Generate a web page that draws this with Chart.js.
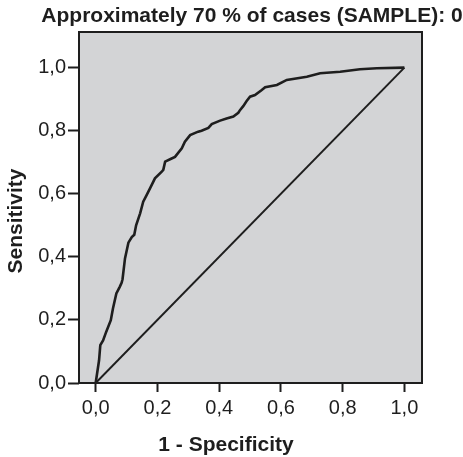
<!DOCTYPE html>
<html>
<head>
<meta charset="utf-8">
<script src="https://cdn.jsdelivr.net/npm/chart.js@4"></script>
<style>
  html, body { margin: 0; padding: 0; background: #fff; }
  #wrap { width: 463px; height: 457px; }
</style>
</head>
<body>
<div id="wrap"><canvas id="roc"></canvas></div>
<script>
const TITLE = "Approximately 70 % of cases (SAMPLE): 0";
const X_TITLE = "1 - Specificity";
const Y_TITLE = "Sensitivity";

// ROC curve
const fpr = [0, 0.011, 0.015, 0.024, 0.034, 0.049, 0.056, 0.067, 0.078, 0.084,
  0.087, 0.095, 0.106, 0.117, 0.125, 0.131, 0.144, 0.154, 0.165, 0.176,
  0.192, 0.214, 0.219, 0.225, 0.246, 0.257, 0.279, 0.289, 0.306, 0.332,
  0.343, 0.365, 0.376, 0.403, 0.424, 0.446, 0.462, 0.468, 0.478, 0.489,
  0.5, 0.516, 0.538, 0.549, 0.587, 0.619, 0.684, 0.727, 0.792, 0.856,
  0.911, 1];
const tpr = [0, 0.072, 0.12, 0.135, 0.162, 0.199, 0.236, 0.284, 0.305, 0.318,
  0.329, 0.395, 0.445, 0.463, 0.47, 0.5, 0.538, 0.575, 0.596, 0.617,
  0.649, 0.67, 0.676, 0.702, 0.712, 0.717, 0.744, 0.765, 0.786, 0.797,
  0.8, 0.809, 0.821, 0.832, 0.839, 0.845, 0.857, 0.866, 0.878, 0.894,
  0.908, 0.913, 0.929, 0.938, 0.945, 0.961, 0.971, 0.982, 0.987, 0.995,
  0.998, 1];

// reference diagonal
const refX = [0, 1];
const refY = [0, 1];

const xTicks = [0, 0.2, 0.4, 0.6, 0.8, 1.0];
const yTicks = [0, 0.2, 0.4, 0.6, 0.8, 1.0];

const INK = "#1e1e1e";
const FONT = "'Liberation Sans', Arial, sans-serif";

const fmt = v => v.toFixed(1).replace(".", ",");

const frame = {
  id: "frame",
  beforeDatasetsDraw(chart) {
    const { ctx, chartArea: a } = chart;
    ctx.save();
    ctx.fillStyle = "#d3d4d6";
    ctx.fillRect(a.left, a.top, a.right - a.left, a.bottom - a.top);
    ctx.restore();
  },
  afterDraw(chart) {
    const { ctx, chartArea: a } = chart;
    ctx.save();
    ctx.strokeStyle = INK;
    ctx.lineWidth = 2;
    ctx.strokeRect(a.left, a.top, a.right - a.left, a.bottom - a.top);

    ctx.fillStyle = INK;
    ctx.textAlign = "center";
    ctx.textBaseline = "middle";
    ctx.font = "bold 21px " + FONT;
    ctx.fillText(TITLE, 252, 16);
    ctx.font = "bold 21px " + FONT;
    ctx.fillText(X_TITLE, 226, 445);
    ctx.translate(16, 221);
    ctx.rotate(-Math.PI / 2);
    ctx.fillText(Y_TITLE, 0, 0);
    ctx.restore();
  }
};

new Chart(document.getElementById("roc"), {
  type: "scatter",
  data: {
    datasets: [
      {
        data: fpr.map((x, i) => ({ x, y: tpr[i] })),
        showLine: true,
        borderColor: INK,
        borderWidth: 2.6,
        pointRadius: 0,
        tension: 0,
      },
      {
        data: refX.map((x, i) => ({ x, y: refY[i] })),
        showLine: true,
        borderColor: INK,
        borderWidth: 2,
        pointRadius: 0,
      },
    ],
  },
  options: {
    responsive: true,
    maintainAspectRatio: false,
    animation: false,
    layout: { padding: { top: 32, right: 41, left: 0, bottom: 0 } },
    plugins: {
      legend: { display: false },
      tooltip: { enabled: false },
    },
    scales: {
      x: {
        type: "linear",
        min: -0.054,
        max: 1.057,
        afterFit: s => { s.height = 74; },
        afterBuildTicks: s => { s.ticks = xTicks.map(value => ({ value })); },
        grid: { drawOnChartArea: false, tickLength: 9, tickColor: INK, tickWidth: 2 },
        border: { display: false },
        ticks: {
          callback: fmt,
          color: INK,
          padding: 4,
          maxRotation: 0,
          font: { family: FONT, size: 20 },
        },
      },
      y: {
        type: "linear",
        min: 0,
        max: 1.113,
        afterFit: s => { s.width = 79; },
        afterBuildTicks: s => { s.ticks = yTicks.map(value => ({ value })); },
        grid: { drawOnChartArea: false, tickLength: 11, tickColor: INK, tickWidth: 2 },
        border: { display: false },
        ticks: {
          callback: fmt,
          color: INK,
          padding: 2,
          font: { family: FONT, size: 20 },
        },
      },
    },
  },
  plugins: [frame],
});
</script>
</body>
</html>
